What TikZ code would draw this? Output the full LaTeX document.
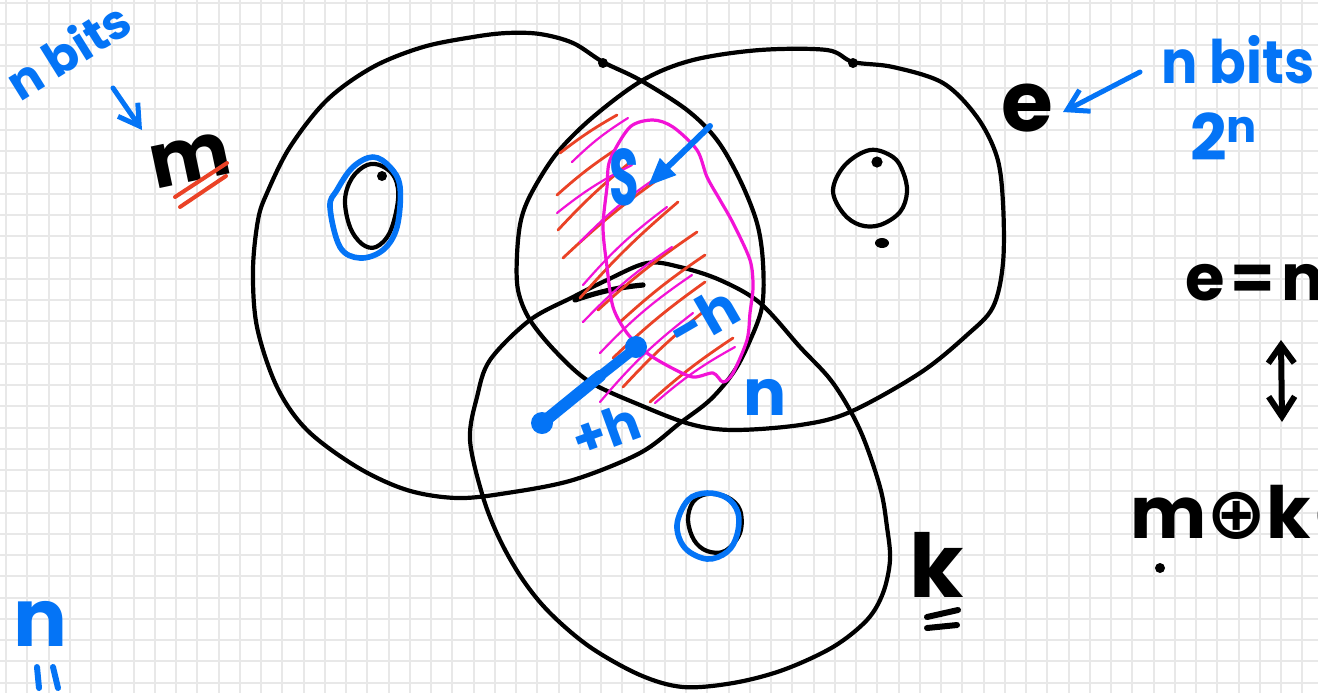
\documentclass[tikz,border=0pt]{standalone}
\usepackage{fontspec}
\setmainfont{Poppins}
\newfontfamily\dv{DejaVu Sans}
\usetikzlibrary{arrows.meta}
\definecolor{hblue}{RGB}{4,116,246}
\definecolor{hred}{RGB}{234,66,38}
\definecolor{hmag}{RGB}{242,18,214}
\definecolor{gridc}{RGB}{232,232,232}
\newcommand{\fsz}[1]{\fontsize{#1}{#1}\selectfont\bfseries}
\begin{document}
\begin{tikzpicture}[x=0.5pt,y=-0.5pt,
  gridline/.style={gridc, line width=1pt},
  blk/.style={black, line width=2.1pt, line cap=round, line join=round},
  blu/.style={hblue, line width=2.8pt, line cap=round, line join=round},
  hatchr/.style={hred, line width=1.4pt, line cap=round},
  hatchm/.style={hmag, line width=1.1pt, line cap=round},
  loopm/.style={hmag, line width=1.6pt, line join=round},
  btxt/.style={text=hblue, inner sep=0pt},
  ktxt/.style={text=black, inner sep=0pt},
  barrow/.style={hblue, line width=2.5pt, line cap=round, line join=round, -{Straight Barb[length=10pt,width=12pt]}},
  karrow/.style={black, line width=3pt, line cap=round, line join=round, {Straight Barb[length=9pt,width=13pt]}-{Straight Barb[length=10pt,width=13pt]}}
]
\useasboundingbox (0,0) rectangle (1318,693);
\begin{scope}
\clip (0,0) rectangle (1318,693);
\fill[white] (0,0) rectangle (1318,693);
% grid
\foreach \i in {0,...,62} \draw[gridline] ({6+21.25*\i},0) -- ({6+21.25*\i},693);
\foreach \j in {0,...,33} \draw[gridline] (0,{2.5+21.25*\j}) -- (1318,{2.5+21.25*\j});

% big circle m
\draw[blk] plot[smooth cycle, tension=0.55] coordinates {
 (603,62) (640,80) (687,110) (717,140) (740,180) (757,223) (763,263) (762,307) (748,345) (733,373) (710,400) (680,423) (640,453) (573,480) (507,493) (457,498) (407,490) (357,467) (307,430) (277,387) (257,327) (253,270) (258,220) (267,193) (290,147) (327,100) (373,67) (423,47) (473,37) (507,33) (540,34) (573,43)};
% big circle e
\draw[blk] plot[smooth cycle, tension=0.55] coordinates {
 (517,255) (521,220) (532,192) (557,153) (593,117) (643,80) (693,60) (760,50) (827,50) (853,62) (893,67) (943,83) (977,117) (997,157) (1003,203) (1003,263) (993,307) (967,335) (920,373) (850,412) (800,425) (733,430) (690,424) (640,405) (590,382) (557,353) (530,320) (518,290)};
% big circle k
\draw[blk] plot[smooth cycle, tension=0.55] coordinates {
 (470,440) (477,397) (490,360) (530,320) (573,297) (607,280) (647,263) (680,267) (720,280) (760,303) (800,347) (833,383) (860,430) (880,487) (887,527) (890,560) (883,593) (867,620) (833,647) (783,670) (733,683) (683,687) (640,675) (590,647) (550,613) (523,580) (500,540) (483,497)};
\draw[blk, line width=2.6pt] (575,300) .. controls (598,292) and (620,287) .. (643,285);
\fill (603,63) circle (2.5pt);
\fill (853,63) circle (2.5pt);

% small O's
\draw[blk] plot[smooth cycle, tension=0.6] coordinates {(345,200) (350,227) (362,244) (376,247) (390,232) (398,200) (395,178) (382,166) (367,165) (352,178)};
\fill (382,176) circle (2.5pt);
\draw[blu] plot[smooth cycle, tension=0.6] coordinates {(330,207) (340,247) (360,258) (383,250) (397,227) (400,187) (390,167) (373,157) (353,167) (337,190)};

\draw[blk] plot[smooth cycle, tension=0.6] coordinates {(833,190) (845,165) (870,150) (893,157) (903,172) (907,192) (900,212) (880,225) (860,225) (843,213)};
\fill (877,162) circle (2.8pt);
\fill (882,243) ellipse (3.5pt and 2.5pt);

\draw[blk] plot[smooth cycle, tension=0.6] coordinates {(688,520) (694,540) (707,551) (725,551) (740,533) (740,510) (727,497) (707,494) (693,502)};
\draw[blu] plot[smooth cycle, tension=0.6] coordinates {(677,525) (685,548) (707,559) (727,552) (737,535) (738,513) (727,498) (707,493) (688,500)};

% hatching
\draw[hatchr] (560,153) to[bend left=4] (617,115);
\draw[hatchr] (557,195) to[bend left=4] (615,150);
\draw[hatchr] (558,230) to[bend left=4] (633,160);
\draw[hatchr] (563,258) to[bend left=4] (667,173);
\draw[hatchr] (580,298) to[bend left=4] (678,202);
\draw[hatchr] (598,310) to[bend left=4] (697,232);
\draw[hatchr] (620,322) to[bend left=4] (705,255);
\draw[hatchr] (613,358) to[bend left=4] (705,282);
\draw[hatchr] (623,387) to[bend left=4] (703,312);
\draw[hatchr] (650,402) to[bend left=4] (733,338);
\draw[hatchm] (572,162) to[bend left=6] (628,118);
\draw[hatchm] (557,213) to[bend left=6] (632,165);
\draw[hatchm] (580,242) to[bend left=6] (665,172);
\draw[hatchm] (583,285) to[bend left=6] (667,207);
\draw[hatchm] (583,322) to[bend left=6] (672,247);
\draw[hatchm] (600,353) to[bend left=6] (692,275);
\draw[hatchm] (600,402) to[bend left=6] (693,313);
\draw[hatchm] (655,403) to[bend left=6] (735,347);
% magenta loop
\draw[loopm] plot[smooth cycle, tension=0.5] coordinates {(610,160) (630,127) (653,120) (673,127) (697,150) (707,177) (720,200) (733,223) (750,260) (753,287) (750,313) (747,340) (733,373) (723,382) (713,373) (693,377) (670,367) (647,353) (627,333) (613,307) (607,267) (603,227) (607,187)};

% blue marks
\coordinate (sa1) at (710,126);
\coordinate (sa2) at (648,186);
\draw[hblue, line width=3pt, line cap=round, -{Triangle[length=14pt,width=11pt]}] (sa1) -- (sa2);
\draw[hblue, line width=6pt, line cap=round] (541,424) -- (600,376);
\draw[hblue, line width=5pt, line cap=round] (600,376) -- (638,346);
\fill[hblue] (542,423) circle (5.5pt);
\fill[hblue] (636,347) circle (5.5pt);

% texts
\node[btxt, font=\fsz{24}, rotate=32] (nb1) at (68,50) {n bits};
\coordinate (a1s) at (113,88);
\coordinate (a1e) at (142,130);
\draw[barrow] (a1s) -- (a1e);
\node[ktxt, font=\fsz{38}, rotate=12] (m) at (190,160) {m};
\draw[hred, line width=2pt, line cap=round] (175,197) -- (227,163);
\draw[hred, line width=2pt, line cap=round] (180,207) -- (226,176);

\node[ktxt, font=\fsz{42}] (e) at (1027,108) {e};
\coordinate (a2s) at (1140,72);
\coordinate (a2e) at (1063,112);
\draw[barrow] (a2s) -- (a2e);
\node[btxt, font=\fsz{30}, xscale=0.9] (nb2) at (1238,60) {n bits};
\node[btxt, font=\fsz{32}] (two) at (1224,137) {2\textsuperscript{n}};

\node[ktxt, font=\fsz{32}, anchor=west] (eq) at (1185,283) {e\kern3pt=\kern3pt m};
\coordinate (da1) at (1281,340);
\coordinate (da2) at (1282,422);
\draw[karrow] (da1) -- (da2);
\node[ktxt, font=\fsz{36}, anchor=west] (mk) at (1130,512) {m{\dv ⊕}k{\dv ⊕}};
\fill (1160,568) circle (2.5pt);

\node[ktxt, font=\fsz{44}] (k) at (937,565) {k};
\draw[black, line width=3pt, line cap=round] (927,617) -- (958,610);
\draw[black, line width=3pt, line cap=round] (927,628) -- (957,625);

\node[btxt, font=\fsz{40}] (nbl) at (40,624) {n};
\draw[hblue, line width=3pt, line cap=round] (37,667) -- (39,688);
\draw[hblue, line width=3pt, line cap=round] (53,667) -- (58,688);

\node[btxt, font=\fsz{40}, xscale=0.6] (S) at (624,177) {S};
\node[btxt, font=\fsz{26}, rotate=20] (ph) at (606,430) {+h};
\node[btxt, font=\fsz{28}, rotate=30] (mh) at (703,318) {-h};
\node[btxt, font=\fsz{32}] (nn) at (765,397) {n};
\end{scope}
\end{tikzpicture}
\end{document}
